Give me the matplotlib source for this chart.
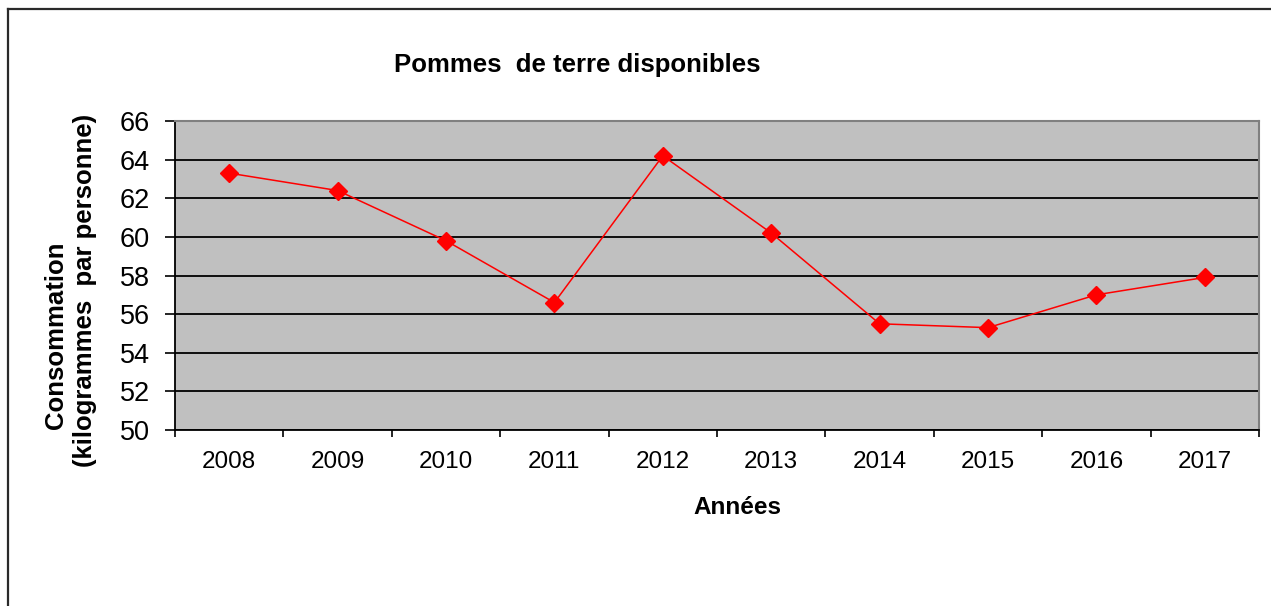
import matplotlib
matplotlib.use("Agg")
import matplotlib.pyplot as plt
from matplotlib.lines import Line2D
import numpy as np

plt.rcParams['font.family'] = ['Liberation Sans', 'DejaVu Sans']

years = ["2008", "2009", "2010", "2011", "2012", "2013", "2014", "2015", "2016", "2017"]
consommation = [63.3, 62.4, 59.8, 56.6, 64.2, 60.2, 55.5, 55.3, 57.0, 57.9]
y_ticks = [50, 52, 54, 56, 58, 60, 62, 64, 66]

W, H = 1271, 606
fig = plt.figure(figsize=(W / 100, H / 100), dpi=100)
fig.patch.set_facecolor('white')

def fx(px):
    return px / W

def fy(py):
    return 1 - py / H

left, right, top, bottom = 175, 1259, 121, 430
ax = fig.add_axes([fx(left), fy(bottom), (right - left) / W, (bottom - top) / H])
ax.set_facecolor('#C0C0C0')

x = np.arange(len(years))
ax.plot(x, consommation, color='#FF0000', linewidth=1.1, marker='D',
        markersize=9, markerfacecolor='#FF0000', markeredgecolor='#FF0000', zorder=3)

ax.set_xlim(-0.5, len(years) - 0.5)
ax.set_ylim(50, 66)
ax.set_yticks(y_ticks)
ax.set_yticklabels([str(v) for v in y_ticks], fontsize=19.5)
ax.yaxis.grid(True, color='black', linewidth=1.3)
ax.set_axisbelow(True)

ax.set_xticks(x)
ax.set_xticklabels(years, fontsize=17.5)
ax.set_xticks(np.arange(-0.5, len(years), 1.0), minor=True)
ax.tick_params(axis='x', which='major', length=0, pad=15)
ax.tick_params(axis='x', which='minor', length=5, width=1.2, color='black', direction='out')
ax.tick_params(axis='y', which='major', length=7, width=1.2, color='black', pad=11)

ax.spines['left'].set_color('black')
ax.spines['left'].set_linewidth(1.3)
ax.spines['bottom'].set_color('black')
ax.spines['bottom'].set_linewidth(1.3)
ax.spines['top'].set_color('#808080')
ax.spines['top'].set_linewidth(1.5)
ax.spines['right'].set_color('#808080')
ax.spines['right'].set_linewidth(1.5)

fig.text(fx(577), fy(65), "Pommes  de terre disponibles", fontsize=18.5,
         fontweight='bold', ha='center', va='center')
fig.text(fx(737), fy(508), "Années", fontsize=17.5, fontweight='bold',
         ha='center', va='center')
fig.text(fx(56), fy(335), "Consommation", fontsize=18.5, fontweight='bold',
         rotation=90, ha='center', va='center')
fig.text(fx(85), fy(290), "(kilogrammes  par personne)", fontsize=18.5,
         fontweight='bold', rotation=90, ha='center', va='center')

# outer chart border (top and left visible)
fig.add_artist(Line2D([fx(8), fx(W + 5)], [fy(9), fy(9)], color='#2a2a2a', linewidth=1.6))
fig.add_artist(Line2D([fx(8), fx(8)], [fy(9), fy(H + 5)], color='#2a2a2a', linewidth=1.6))

fig.savefig("out.png", dpi=100)
